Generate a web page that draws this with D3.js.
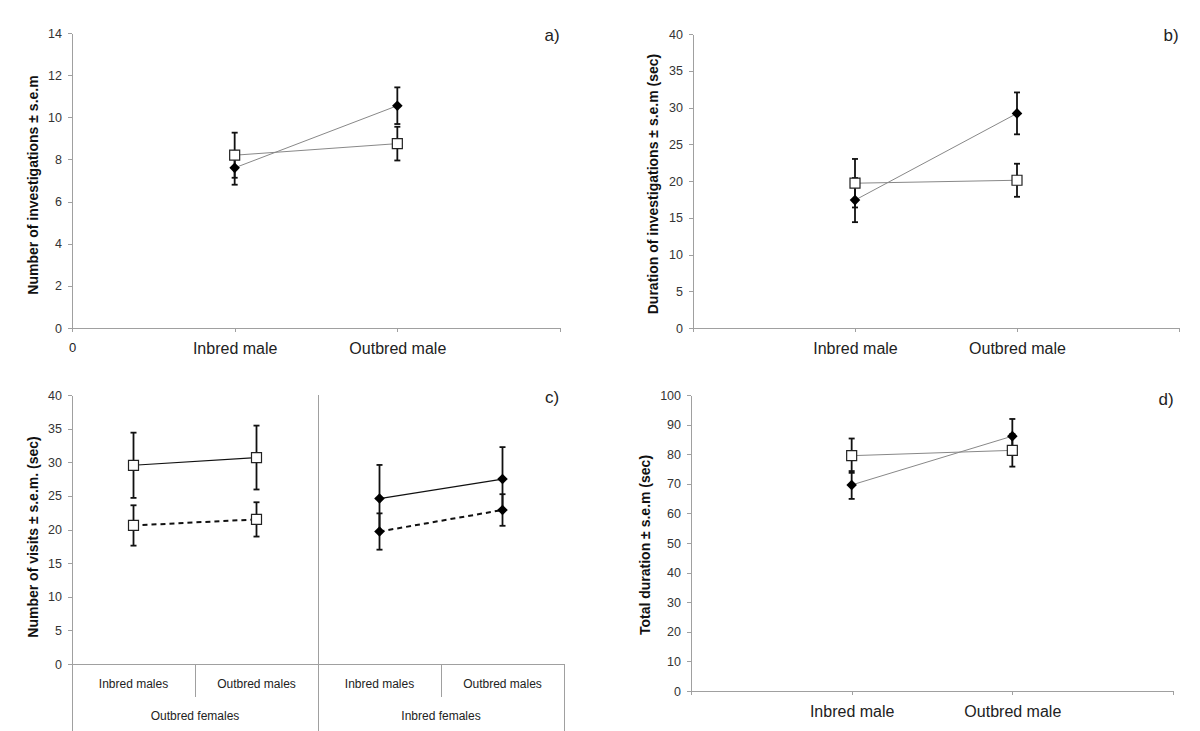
<!DOCTYPE html>
<meta charset="utf-8">
<style>
body { margin: 0; background: #fff; }
svg { font-family: Arial, "Liberation Sans", sans-serif; }
.axis path, .axis line, .frame { stroke: #a0a0a0; fill: none; shape-rendering: crispEdges; }
.axis text { fill: #333; }
.ytitle { font-size: 14px; font-weight: bold; fill: #111; }
.plabel { font-size: 17px; fill: #222; }
.cat { font-size: 12px; fill: #222; }
.err { stroke: #111; stroke-width: 1.8; }
.link { fill: none; stroke: #888; stroke-width: 1; }
.clink { fill: none; stroke: #111; stroke-width: 1.2; }
.clink.dashed { stroke-width: 2; stroke-dasharray: 5,4; }
.square { fill: #fff; stroke: #222; stroke-width: 1.2; }
.diamond { fill: #000; }
</style>
<body>
<script src="https://cdnjs.cloudflare.com/ajax/libs/d3/7.8.5/d3.min.js"></script>
<script>
var w = 1200, h = 731;

// panels a, b, d: two male categories
var maleCats = ["Inbred male", "Outbred male"];

var aDiamond = [7.6, 10.55],  aDiamondSem = [0.8, 0.87];
var aSquare  = [8.2, 8.75],   aSquareSem  = [1.07, 0.8];

var bDiamond = [17.4, 29.2],  bDiamondSem = [3.0, 2.85];
var bSquare  = [19.7, 20.1],  bSquareSem  = [3.3, 2.25];

var dDiamond = [69.6, 86.1],  dDiamondSem = [4.7, 5.8];
var dSquare  = [79.5, 81.3],  dSquareSem  = [5.8, 5.5];

// panel c: females groups x males
var femaleGroups = ["Outbred females", "Inbred females"];
var maleGroups = ["Inbred males", "Outbred males"];
var cOutSolid  = [29.55, 30.7], cOutSolidSem  = [4.85, 4.75];
var cOutDashed = [20.6, 21.5],  cOutDashedSem = [3.0, 2.55];
var cInSolid   = [24.6, 27.5],  cInSolidSem   = [5.0, 4.75];
var cInDashed  = [19.7, 22.9],  cInDashedSem  = [2.7, 2.35];

var svg = d3.select("body").append("svg")
    .attr("width", w)
    .attr("height", h);

var squareSym = d3.symbol().type(d3.symbolSquare).size(100);
var diamondSym = d3.symbol().type(d3.symbolSquare).size(56);

function yAxis(g, y, max, step) {
  g.attr("class", "axis")
    .call(d3.axisLeft(y).tickValues(d3.range(0, max + step / 2, step))
      .tickSize(4).tickPadding(6).tickSizeOuter(0))
    .selectAll("text").style("font-size", "12.5px");
}

function drawSeries(g, x, y, cats, means, sems, lineClass) {
  var pts = cats.map(function(c, i) { return {c: c, m: means[i], s: sems[i]}; });
  g.append("path")
    .datum(pts)
    .attr("class", lineClass)
    .attr("d", d3.line().x(function(d) { return x(d.c); }).y(function(d) { return y(d.m); }));
  var eb = g.selectAll(null).data(pts).enter().append("g").attr("class", "err");
  eb.append("line")
    .attr("x1", function(d) { return x(d.c); }).attr("x2", function(d) { return x(d.c); })
    .attr("y1", function(d) { return y(d.m - d.s); }).attr("y2", function(d) { return y(d.m + d.s); });
  [-1, 1].forEach(function(sign) {
    eb.append("line")
      .attr("x1", function(d) { return x(d.c) - 3; }).attr("x2", function(d) { return x(d.c) + 3; })
      .attr("y1", function(d) { return y(d.m + sign * d.s); }).attr("y2", function(d) { return y(d.m + sign * d.s); });
  });
  return pts;
}

function drawMarks(g, x, y, pts, shape) {
  g.selectAll(null).data(pts).enter().append("path")
    .attr("class", shape)
    .attr("d", shape == "square" ? squareSym() : diamondSym())
    .attr("transform", function(d) {
      return "translate(" + x(d.c) + "," + y(d.m) + ")" + (shape == "diamond" ? " rotate(45)" : "");
    });
}

function titles(title, tx, ty, label, lx, ly) {
  svg.append("text")
    .attr("class", "ytitle")
    .attr("transform", "translate(" + tx + "," + ty + ") rotate(-90)")
    .attr("text-anchor", "middle")
    .attr("dy", "0.35em")
    .text(title);
  svg.append("text")
    .attr("class", "plabel")
    .attr("x", lx).attr("y", ly)
    .attr("text-anchor", "middle")
    .attr("dy", "0.35em")
    .text(label);
}

/* panels a, b, d */
function malePanel(p) {
  var x = d3.scalePoint().domain([p.first].concat(maleCats).concat(["end"])).range([p.left, p.right]);
  var y = d3.scaleLinear().domain([0, p.max]).range([p.bottom, p.top]);
  var g = svg.append("g");
  g.append("g")
    .attr("transform", "translate(0," + p.bottom + ")")
    .attr("class", "axis")
    .call(d3.axisBottom(x).tickSize(4).tickPadding(11).tickSizeOuter(0)
      .tickFormat(function(d) { return d == "end" || d == "none" ? "" : d; }))
    .selectAll("text")
      .style("font-size", function(d) { return d == "0" ? "13px" : "16px"; })
      .style("fill", "#222");
  g.append("g")
    .attr("transform", "translate(" + p.left + ",0)")
    .call(yAxis, y, p.max, p.step);
  var sq = drawSeries(g, x, y, maleCats, p.square, p.squareSem, "link");
  var di = drawSeries(g, x, y, maleCats, p.diamond, p.diamondSem, "link");
  drawMarks(g, x, y, di, "diamond");
  drawMarks(g, x, y, sq, "square");
  titles(p.title, p.tx, p.ty, p.label, p.lx, p.ly);
}

malePanel({left: 72, right: 560, top: 33, bottom: 328, max: 14, step: 2, first: "0",
  diamond: aDiamond, diamondSem: aDiamondSem, square: aSquare, squareSem: aSquareSem,
  title: "Number of investigations \u00b1 s.e.m", tx: 33, ty: 185, label: "a)", lx: 552, ly: 35});

malePanel({left: 693, right: 1179, top: 34, bottom: 328, max: 40, step: 5, first: "none",
  diamond: bDiamond, diamondSem: bDiamondSem, square: bSquare, squareSem: bSquareSem,
  title: "Duration of investigations \u00b1 s.e.m (sec)", tx: 653, ty: 184, label: "b)", lx: 1171, ly: 35});

malePanel({left: 691, right: 1173, top: 395, bottom: 691, max: 100, step: 10, first: "none",
  diamond: dDiamond, diamondSem: dDiamondSem, square: dSquare, squareSem: dSquareSem,
  title: "Total duration \u00b1 s.e.m (sec)", tx: 645, ty: 545, label: "d)", lx: 1166, ly: 399});

/* panel c */
(function() {
  var left = 72, right = 564, top = 395, bottom = 664;
  var y = d3.scaleLinear().domain([0, 40]).range([bottom, top]);
  var xg = d3.scaleBand().domain(femaleGroups).range([left, right]);
  var sub = d3.scaleBand().domain(maleGroups).range([0, xg.bandwidth()]);
  var g = svg.append("g");

  g.append("g").attr("transform", "translate(" + left + ",0)").call(yAxis, y, 40, 5);
  g.append("line").attr("class", "frame").attr("x1", left).attr("x2", right).attr("y1", bottom).attr("y2", bottom);
  g.append("line").attr("class", "frame").attr("x1", left).attr("x2", left).attr("y1", bottom).attr("y2", h);
  g.append("line").attr("class", "frame").attr("x1", right).attr("x2", right).attr("y1", bottom).attr("y2", h);
  g.append("line").attr("class", "frame")
    .attr("x1", xg(femaleGroups[1])).attr("x2", xg(femaleGroups[1])).attr("y1", top).attr("y2", h);

  femaleGroups.forEach(function(f) {
    var x0 = xg(f);
    g.append("line").attr("class", "frame")
      .attr("x1", x0 + sub(maleGroups[1])).attr("x2", x0 + sub(maleGroups[1]))
      .attr("y1", bottom).attr("y2", bottom + 33);
    maleGroups.forEach(function(m) {
      g.append("text").attr("class", "cat")
        .attr("x", x0 + sub(m) + sub.bandwidth() / 2).attr("y", 688)
        .attr("text-anchor", "middle").text(m);
    });
    g.append("text").attr("class", "cat")
      .attr("x", x0 + xg.bandwidth() / 2).attr("y", 720)
      .attr("text-anchor", "middle").text(f);
  });

  function xf(f) {
    return function(m) { return xg(f) + sub(m) + sub.bandwidth() / 2; };
  }
  var xo = xf(femaleGroups[0]), xi = xf(femaleGroups[1]);
  var s1 = drawSeries(g, xo, y, maleGroups, cOutSolid, cOutSolidSem, "clink");
  var s2 = drawSeries(g, xo, y, maleGroups, cOutDashed, cOutDashedSem, "clink dashed");
  var s3 = drawSeries(g, xi, y, maleGroups, cInSolid, cInSolidSem, "clink");
  var s4 = drawSeries(g, xi, y, maleGroups, cInDashed, cInDashedSem, "clink dashed");
  drawMarks(g, xo, y, s1, "square");
  drawMarks(g, xo, y, s2, "square");
  drawMarks(g, xi, y, s3, "diamond");
  drawMarks(g, xi, y, s4, "diamond");

  titles("Number of visits \u00b1 s.e.m. (sec)", 33, 537, "c)", 552, 397);
})();
</script>
